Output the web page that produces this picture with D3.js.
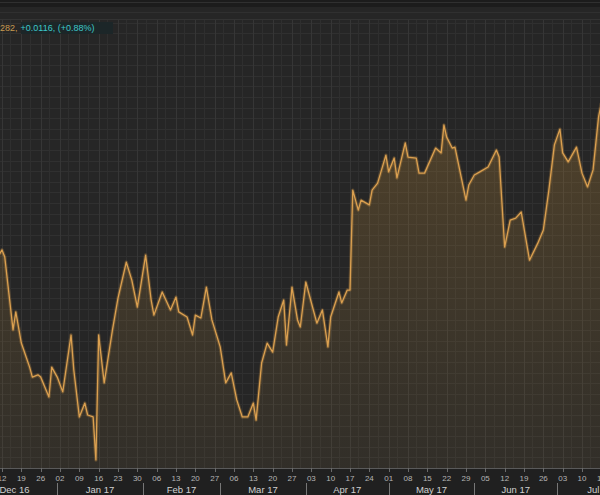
<!DOCTYPE html>
<html><head><meta charset="utf-8">
<script src="https://cdn.jsdelivr.net/npm/d3@7"></script>
<style>html,body{margin:0;padding:0;background:#232323;overflow:hidden}svg{display:block}</style>
</head><body><svg id="c" width="600" height="495"></svg>
<script>
// GBP/USD daily closes
const dates = ["2016-12-11","2016-12-12","2016-12-13","2016-12-16","2016-12-17","2016-12-19","2016-12-22","2016-12-23","2016-12-25","2016-12-26","2016-12-29","2016-12-30",
"2017-01-01","2017-01-03","2017-01-06","2017-01-07","2017-01-09","2017-01-11","2017-01-12","2017-01-14","2017-01-15","2017-01-16","2017-01-18","2017-01-21","2017-01-23","2017-01-26","2017-01-28","2017-01-30",
"2017-02-02","2017-02-04","2017-02-05","2017-02-08","2017-02-11","2017-02-13","2017-02-14","2017-02-17","2017-02-19","2017-02-20","2017-02-22","2017-02-24","2017-02-26",
"2017-03-01","2017-03-03","2017-03-05","2017-03-07","2017-03-09","2017-03-11","2017-03-13","2017-03-14","2017-03-16","2017-03-18","2017-03-20","2017-03-22","2017-03-24","2017-03-25","2017-03-27","2017-03-29","2017-03-30",
"2017-04-01","2017-04-04","2017-04-05","2017-04-07","2017-04-09","2017-04-10","2017-04-13","2017-04-14","2017-04-16","2017-04-17","2017-04-18","2017-04-20","2017-04-21","2017-04-24","2017-04-25","2017-04-27","2017-04-30",
"2017-05-01","2017-05-03","2017-05-04","2017-05-07","2017-05-08","2017-05-11","2017-05-12","2017-05-14","2017-05-18","2017-05-20","2017-05-21","2017-05-22","2017-05-24","2017-05-25","2017-05-29","2017-05-30",
"2017-06-01","2017-06-03","2017-06-06","2017-06-09","2017-06-10","2017-06-12","2017-06-14","2017-06-16","2017-06-18","2017-06-21","2017-06-24","2017-06-26","2017-06-28","2017-06-30",
"2017-07-02","2017-07-03","2017-07-05","2017-07-08","2017-07-10","2017-07-12","2017-07-14","2017-07-16","2017-07-17"];
const values = [1.2640,1.2654,1.2632,1.2405,1.2461,1.2364,1.2289,1.2258,1.2265,1.2258,1.2196,1.2289,
1.2258,1.2212,1.2389,1.2280,1.2134,1.2177,1.2140,1.2134,1.2000,1.2389,1.2240,1.2405,1.2504,1.2616,1.2560,1.2476,
1.2638,1.2498,1.2451,1.2523,1.2467,1.2507,1.2461,1.2445,1.2389,1.2451,1.2442,1.2538,1.2436,
1.2352,1.2240,1.2271,1.2187,1.2134,1.2134,1.2177,1.2124,1.2302,1.2364,1.2336,1.2445,1.2498,1.2358,1.2538,1.2436,1.2414,
1.2554,1.2458,1.2426,1.2467,1.2352,1.2445,1.2523,1.2489,1.2529,1.2529,1.2840,1.2778,1.2809,1.2794,1.2840,1.2862,1.2949,
1.2897,1.2940,1.2878,1.2987,1.2943,1.2940,1.2893,1.2893,1.2971,1.2956,1.3043,1.3005,1.2971,1.2974,1.2809,1.2856,
1.2887,1.2897,1.2912,1.2965,1.2943,1.2663,1.2747,1.2753,1.2772,1.2622,1.2675,1.2716,1.2840,1.2981,
1.3030,1.2956,1.2928,1.2974,1.2893,1.2850,1.2903,1.3068,1.3111];
const weekTicks = ["2016-12-12","2016-12-19","2016-12-26","2017-01-02","2017-01-09","2017-01-16","2017-01-23","2017-01-30","2017-02-06","2017-02-13","2017-02-20","2017-02-27","2017-03-06","2017-03-13","2017-03-20","2017-03-27","2017-04-03","2017-04-10","2017-04-17","2017-04-24","2017-05-01","2017-05-08","2017-05-15","2017-05-22","2017-05-29","2017-06-05","2017-06-12","2017-06-19","2017-06-26","2017-07-03","2017-07-10","2017-07-17"];
const monthLabels = ["Dec 16","Jan 17","Feb 17","Mar 17","Apr 17","May 17","Jun 17","Jul 17"];
const monthStarts = ["2016-12-01","2017-01-01","2017-02-01","2017-03-01","2017-04-01","2017-05-01","2017-06-01","2017-07-01","2017-08-01"];
const headerLast = "282,";
const headerChange = "+0.0116, (+0.88%)";

const P = d3.utcParse("%Y-%m-%d");
const data = dates.map((d,i)=>({d:P(d), v:values[i]}));
const svg = d3.select("#c");
const W = 600, axisY = 468;
const x = d3.scaleUtc().domain([P("2016-12-12"), P("2017-07-10")]).range([2, 582]);
const y = d3.scaleLinear().domain([1.1975, 1.3432]).range([axisY, 0]);
const FONT = "Arial, 'Liberation Sans', sans-serif";

// backgrounds
svg.append("rect").attr("width",W).attr("height",495).attr("fill","#262626");
svg.append("rect").attr("y",axisY).attr("width",W).attr("height",495-axisY).attr("fill","#202020");
svg.append("rect").attr("width",W).attr("height",7).attr("fill","#1c1c1c");

const defs = svg.append("defs");
const g1 = defs.append("linearGradient").attr("id","fillg").attr("gradientUnits","userSpaceOnUse")
  .attr("x1",0).attr("y1",100).attr("x2",0).attr("y2",axisY);
g1.append("stop").attr("offset","0").attr("stop-color","#b88535").attr("stop-opacity",0.30);
g1.append("stop").attr("offset","1").attr("stop-color","#9a7a40").attr("stop-opacity",0.10);
defs.append("clipPath").attr("id","clip").append("rect").attr("x",0).attr("y",0).attr("width",W).attr("height",axisY);

// grid
const grid = svg.append("g").attr("clip-path","url(#clip)");
const hTicks = d3.range(1.1975, 1.3432, 0.0033);
grid.selectAll("line.h").data(hTicks).join("line")
  .attr("x1",0).attr("x2",W).attr("y1",d=>Math.round(y(d))+0.5).attr("y2",d=>Math.round(y(d))+0.5)
  .attr("stroke","#303030").attr("stroke-width",1);
const halfWeeks = d3.utcDay.range(P("2016-12-08"), P("2017-07-20"), 1).filter(d=>d.getUTCDay()===1 || d.getUTCDay()===4);
grid.selectAll("line.v").data(halfWeeks).join("line")
  .attr("x1",d=>Math.round(x(d))+0.5).attr("x2",d=>Math.round(x(d))+0.5).attr("y1",20).attr("y2",axisY)
  .attr("stroke",d=>d.getUTCDay()===1?"#363636":"#2f2f2f").attr("stroke-width",1);

// area and line
const area = d3.area().x(d=>x(d.d)).y0(axisY).y1(d=>y(d.v));
const line = d3.line().x(d=>x(d.d)).y(d=>y(d.v));
const pg = svg.append("g").attr("clip-path","url(#clip)");
pg.append("path").datum(data).attr("d",area).attr("fill","url(#fillg)");
pg.append("path").datum(data).attr("d",line).attr("fill","none").attr("stroke","#e0a048").attr("stroke-opacity",0.25).attr("stroke-width",3.4).attr("stroke-linejoin","round");
pg.append("path").datum(data).attr("d",line).attr("fill","none").attr("stroke","#dba050").attr("stroke-width",1.3).attr("stroke-linejoin","round");

// axis
svg.append("line").attr("x1",0).attr("x2",W).attr("y1",axisY+0.5).attr("y2",axisY+0.5).attr("stroke","#5a5a5a");
const wt = weekTicks.map(P);
const ax = svg.append("g");
ax.selectAll("line").data(wt).join("line")
  .attr("x1",d=>Math.round(x(d))+0.5).attr("x2",d=>Math.round(x(d))+0.5).attr("y1",axisY).attr("y2",axisY+4)
  .attr("stroke","#6a6a6a");
ax.selectAll("text").data(wt).join("text")
  .attr("x",d=>x(d)).attr("y",axisY+13).attr("text-anchor","middle")
  .attr("font-family",FONT).attr("font-size",8).attr("fill","#b4b4b4")
  .text(d=>d3.utcFormat("%d")(d));
const ms = monthStarts.map(P);
svg.selectAll("line.ms").data(ms).join("line")
  .attr("x1",d=>Math.round(x(d))+0.5).attr("x2",d=>Math.round(x(d))+0.5).attr("y1",483).attr("y2",495)
  .attr("stroke","#777");
svg.selectAll("text.ml").data(monthLabels).join("text")
  .attr("x",(d,i)=>x(new Date((ms[i].getTime()+ms[i+1].getTime())/2)))
  .attr("y",493).attr("text-anchor","middle")
  .attr("font-family",FONT).attr("font-size",9.5).attr("fill","#d0d0d0")
  .text(d=>d);

// header
svg.append("line").attr("x1",0).attr("x2",W).attr("y1",19.5).attr("y2",19.5).attr("stroke","#333");
svg.append("rect").attr("x",21).attr("y",22).attr("width",92).attr("height",12).attr("fill","#1c2628");
const hdr = svg.append("text").attr("x",0).attr("y",31).attr("font-family",FONT).attr("font-size",9);
hdr.append("tspan").attr("fill","#c89a50").text(headerLast);
hdr.append("tspan").attr("fill","#3cc8c8").attr("dx",3).text(headerChange);
</script></body></html>
